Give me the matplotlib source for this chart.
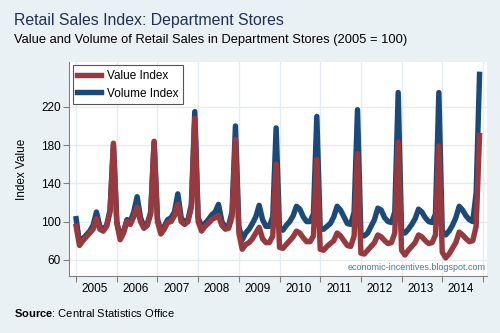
import numpy as np
import matplotlib.pyplot as plt
from matplotlib.ticker import FixedLocator, NullFormatter, FixedFormatter

plt.rcParams['font.family'] = ['Liberation Sans', 'DejaVu Sans']
plt.rcParams['mathtext.fontset'] = 'custom'
plt.rcParams['mathtext.rm'] = 'Liberation Sans'
plt.rcParams['mathtext.bf'] = 'Liberation Sans:bold'

# monthly index values, Jan 2005 - Dec 2014 (2005 = 100)
years = [2005, 2006, 2007, 2008, 2009, 2010, 2011, 2012, 2013, 2014]

value_index = [
    95, 75, 80, 84, 88, 92, 103, 92, 90, 95, 110, 182,
    98, 81, 88, 100, 97, 105, 115, 100, 93, 96, 108, 184,
    100, 87, 92, 99, 100, 106, 118, 100, 97, 100, 115, 208,
    100, 90, 95, 98, 102, 104, 106, 96, 92, 93, 105, 186,
    88, 71, 76, 78, 82, 88, 94, 82, 78, 78, 85, 160,
    73, 72, 76, 80, 84, 90, 88, 83, 79, 79, 85, 165,
    71, 70, 74, 77, 80, 88, 85, 80, 75, 74, 85, 171,
    67, 66, 70, 74, 78, 86, 84, 80, 77, 78, 88, 183,
    70, 65, 70, 74, 78, 86, 84, 80, 77, 78, 86, 179,
    68, 62, 66, 72, 78, 89, 86, 82, 79, 80, 95, 190,
]

volume_index = [
    103, 78, 82, 86, 90, 96, 110, 95, 92, 96, 112, 180,
    100, 84, 90, 102, 100, 110, 126, 104, 95, 98, 110, 183,
    103, 90, 95, 102, 104, 110, 129, 104, 99, 102, 118, 215,
    104, 95, 98, 102, 107, 110, 118, 100, 94, 96, 110, 200,
    95, 81, 88, 92, 98, 105, 117, 102, 95, 95, 105, 198,
    92, 91, 96, 100, 106, 116, 113, 105, 100, 100, 108, 210,
    92, 92, 95, 98, 105, 116, 112, 105, 98, 97, 110, 217,
    86, 85, 88, 95, 102, 114, 112, 104, 100, 99, 110, 235,
    90, 88, 92, 97, 103, 113, 110, 104, 100, 99, 108, 235,
    90, 86, 90, 96, 104, 116, 112, 106, 102, 100, 130, 254,
]

bg = '#EAF1F4'
red = '#973A40'
blue = '#1C4A78'

fig = plt.figure(figsize=(5, 3.33), dpi=100, facecolor=bg)
ax = fig.add_axes([0.138, 0.171, 0.836, 0.643])
ax.set_facecolor('white')

months = np.arange(len(value_index))
l_vol, = ax.plot(months, volume_index, color=blue, lw=3.9, solid_joinstyle='round', label='Volume Index')
l_val, = ax.plot(months, value_index, color=red, lw=3.9, solid_joinstyle='round', label='Value Index')

ax.set_xlim(-2.1, 121.2)
ax.set_ylim(43, 267)

ax.set_yticks([60, 100, 140, 180, 220])
ax.tick_params(axis='y', labelsize=8.5, length=4, color='#808080', pad=2)

# year boundaries as ticks, year labels centred in between
ax.xaxis.set_major_locator(FixedLocator([12 * i for i in range(len(years) + 1)]))
ax.xaxis.set_major_formatter(NullFormatter())
ax.xaxis.set_minor_locator(FixedLocator([12 * i + 5.5 for i in range(len(years))]))
ax.xaxis.set_minor_formatter(FixedFormatter([str(y) for y in years]))
ax.tick_params(axis='x', which='major', length=4, color='#808080')
ax.tick_params(axis='x', which='minor', length=0, labelsize=8.5, pad=5)

ax.grid(True, which='major', color='#E3ECF1', lw=1)
ax.set_axisbelow(True)
for s in ['top', 'right']:
    ax.spines[s].set_visible(False)
for s in ['left', 'bottom']:
    ax.spines[s].set_color('#808080')

ax.set_ylabel('Index Value', fontsize=8.5, labelpad=9)

leg = ax.legend(handles=[l_val, l_vol], loc='upper left', fontsize=8.5,
                fancybox=False, edgecolor='#555555', handlelength=2.0,
                handletextpad=0.5, labelspacing=0.45,
                borderaxespad=0.3, framealpha=1)
leg.get_frame().set_linewidth(0.8)

ax.text(0.996, 0.02, 'economic-incentives.blogspot.com', transform=ax.transAxes,
        ha='right', va='bottom', fontsize=6.5, color='#4A76A6')

fig.text(0.028, 0.937, 'Retail Sales Index: Department Stores', fontsize=11.4,
         color='#1F3057', va='center')
fig.text(0.028, 0.88, 'Value and Volume of Retail Sales in Department Stores (2005 = 100)',
         fontsize=9.3, color='black', va='center')
fig.text(0.028, 0.06, r'$\mathbf{Source}$: Central Statistics Office', fontsize=8, va='center')

fig.savefig('out.png', dpi=100, facecolor=bg)
